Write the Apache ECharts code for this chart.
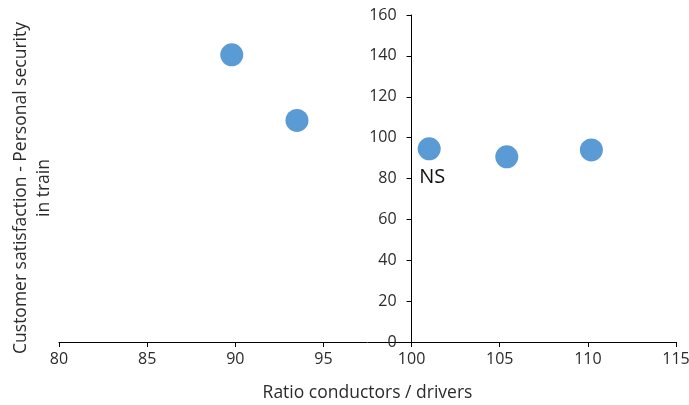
<!DOCTYPE html>
<html><head><meta charset="utf-8">
<script src="https://cdn.jsdelivr.net/npm/echarts@6/dist/echarts.min.js"></script>
<style>html,body{margin:0;padding:0;background:#fff}#c{width:689px;height:405px}</style>
</head><body><div id="c"></div>
<script>
const ratio = [89.8, 93.5, 101.0, 105.4, 110.2];
const satisfaction = [140.5, 108.4, 94.5, 90.6, 94.0];
const pointLabels = ['', '', 'NS', '', ''];
const xTitle = 'Ratio conductors / drivers';
const yTitle = ['Customer satisfaction - Personal security', 'in train'];

const font = '"Open Sans", "Liberation Sans", sans-serif';
const txt = '#2b2b2b';
const chart = echarts.init(document.getElementById('c'));
const gridL = 59, gridR = 13;
const gridW = 689 - gridL - gridR;
chart.setOption({
  animation: false,
  grid: {left: gridL, right: gridR, top: 15, bottom: 63, containLabel: false, outerBoundsMode: 'none'},
  xAxis: {
    type: 'value', min: 80, max: 115, interval: 5,
    axisLine: {onZero: false, lineStyle: {color: '#000', width: 1}},
    axisTick: {show: true, inside: false, length: 5, lineStyle: {color: '#000'}},
    axisLabel: {color: txt, fontFamily: font, fontSize: 16, margin: 9},
    splitLine: {show: false},
    name: xTitle, nameLocation: 'middle', nameGap: 42,
    nameTextStyle: {color: txt, fontFamily: font, fontSize: 17.5}
  },
  yAxis: {
    type: 'value', min: 0, max: 160, interval: 20,
    offset: -gridW * (100 - 80) / (115 - 80),
    axisLine: {show: true, onZero: false, lineStyle: {color: '#000', width: 1}},
    axisTick: {show: true, inside: false, length: 5, lineStyle: {color: '#000'}},
    axisLabel: {color: txt, fontFamily: font, fontSize: 16, margin: 15},
    splitLine: {show: false}
  },
  graphic: [{
    type: 'text', rotation: Math.PI / 2,
    x: 33, y: 188,
    style: {
      text: yTitle.join('\n'), fill: txt, font: '17.5px ' + font,
      textAlign: 'center', textVerticalAlign: 'middle', lineHeight: 23
    }
  }],
  series: [{
    type: 'scatter', symbolSize: 23,
    itemStyle: {color: '#5B9BD5', opacity: 1},
    emphasis: {disabled: true},
    data: ratio.map((x, i) => [x, satisfaction[i]]),
    label: {
      show: true, position: 'bottom', distance: 7, offset: [3, 0],
      formatter: p => pointLabels[p.dataIndex],
      color: '#111', fontFamily: font, fontSize: 20
    }
  }]
});
</script></body></html>
